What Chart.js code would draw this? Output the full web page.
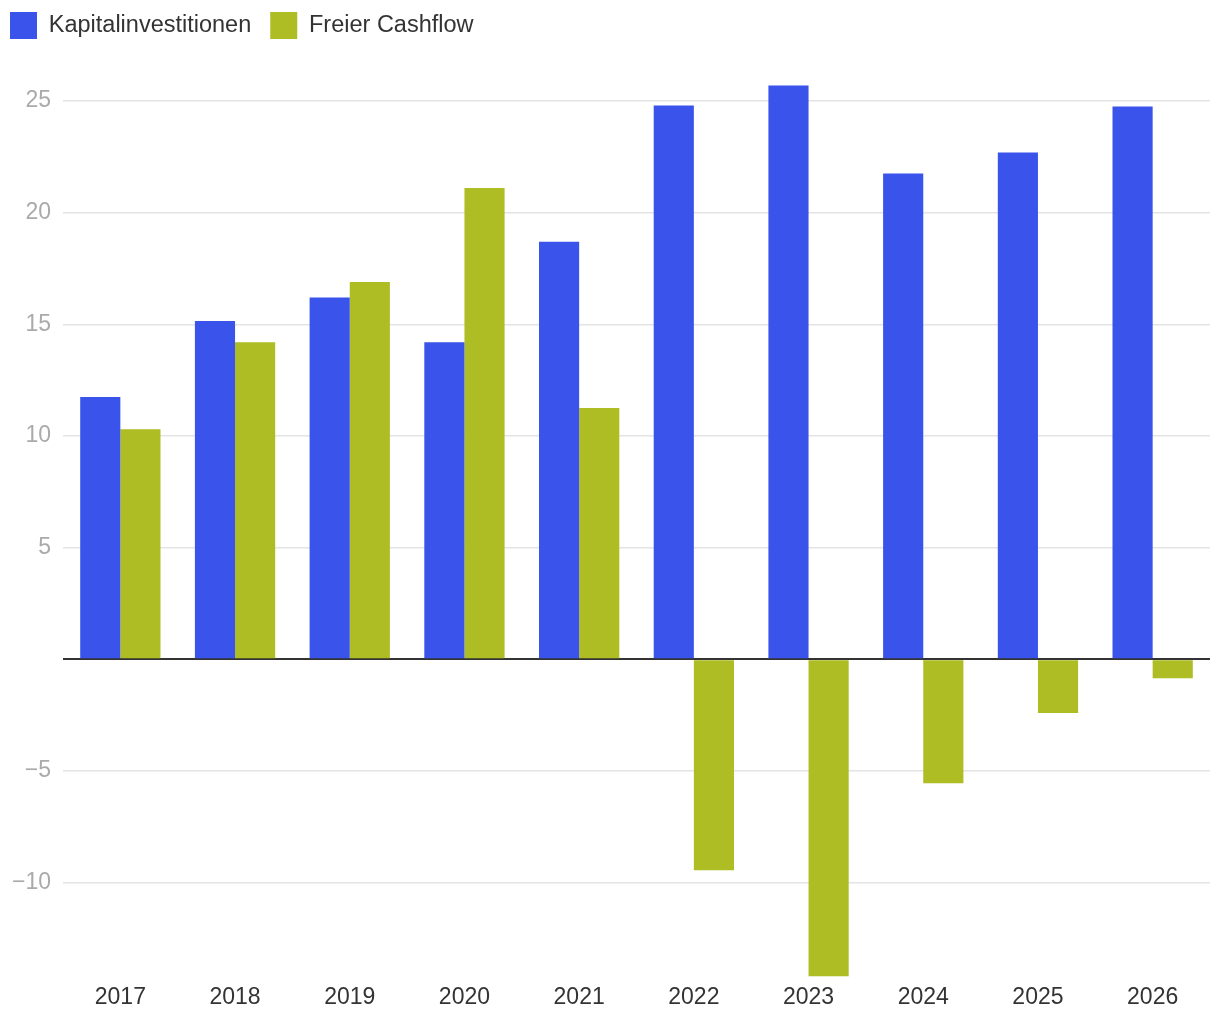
<!DOCTYPE html>
<html>
<head>
<meta charset="UTF-8">
<title>Kapitalinvestitionen und Freier Cashflow</title>
<script src="https://cdn.jsdelivr.net/npm/chart.js"></script>
<style>
  html, body { margin: 0; padding: 0; background: #fff; }
  #wrap { width: 1220px; height: 1020px; }
</style>
</head>
<body>
<div id="wrap"><canvas id="chart" width="1220" height="1020"></canvas></div>
<script>
const years = ['2017', '2018', '2019', '2020', '2021', '2022', '2023', '2024', '2025', '2026'];
const capex = [11.75, 15.15, 16.2, 14.2, 18.7, 24.8, 25.7, 21.75, 22.7, 24.75];
const freeCashflow = [10.3, 14.2, 16.9, 21.1, 11.25, -9.45, -14.2, -5.55, -2.4, -0.85];
const seriesNames = ['Kapitalinvestitionen', 'Freier Cashflow'];
const yTicks = [-10, -5, 0, 5, 10, 15, 20, 25];

const fontFamily = '"Liberation Sans", Arial, Helvetica, sans-serif';

new Chart(document.getElementById('chart'), {
  type: 'bar',
  data: {
    labels: years,
    datasets: [
      { label: seriesNames[0], data: capex, backgroundColor: '#3953eb' },
      { label: seriesNames[1], data: freeCashflow, backgroundColor: '#adbd23' }
    ]
  },
  options: {
    responsive: false,
    animation: false,
    // negative left/top padding lets the legend spacing be wider than its offset
    layout: { padding: { top: -7, right: 10, bottom: 2, left: -9 } },
    datasets: { bar: { categoryPercentage: 0.7, barPercentage: 1.0 } },
    plugins: {
      tooltip: { enabled: false },
      legend: {
        position: 'top',
        align: 'start',
        labels: {
          boxWidth: 27,
          boxHeight: 27,
          padding: 19,
          color: '#333',
          font: { family: fontFamily, size: 23.5 }
        }
      }
    },
    scales: {
      x: {
        grid: { display: false, drawTicks: false },
        border: { display: false },
        ticks: { color: '#333', padding: 7, font: { family: fontFamily, size: 23 } }
      },
      y: {
        min: -14.2,
        max: 27.33,
        afterBuildTicks: axis => {
          axis.ticks = yTicks.map(v => ({ value: v }));
        },
        afterFit: axis => { axis.width = 72; },
        border: { display: false },
        grid: {
          drawTicks: false,
          color: ctx => ctx.tick && ctx.tick.value === 0 ? '#333' : '#e4e4e4',
          lineWidth: ctx => ctx.tick && ctx.tick.value === 0 ? 2 : 1.5
        },
        ticks: {
          color: '#aaa',
          padding: 12,
          font: { family: fontFamily, size: 23 },
          callback: v => v === 0 ? '' : String(v).replace('-', '\u2212')
        }
      }
    }
  }
});
</script>
</body>
</html>
